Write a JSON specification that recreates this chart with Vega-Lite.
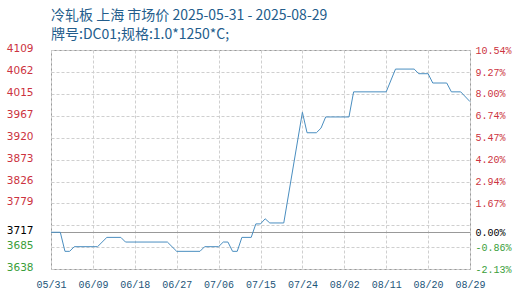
{
  "$schema": "https://vega.github.io/schema/vega-lite/v6.json",
  "width": 419,
  "height": 219,
  "autosize": "none",
  "padding": {"left": 51, "top": 50, "right": 50, "bottom": 31},
  "background": "white",
  "title": {
    "text": ["冷轧板 上海 市场价 2025-05-31 - 2025-08-29", "牌号:DC01;规格:1.0*1250*C;"],
    "anchor": "start",
    "frame": "group",
    "font": "Noto Sans CJK SC",
    "fontSize": 14,
    "fontWeight": "normal",
    "color": "#235d8c",
    "lineHeight": 18.5,
    "offset": 2
  },
  "config": {"view": {"stroke": "#9a9a9a", "strokeWidth": 1}},
  "data": {
    "values": [
      {"date": "2025-05-31", "price": 3717},
      {"date": "2025-06-02", "price": 3717},
      {"date": "2025-06-03", "price": 3676},
      {"date": "2025-06-04", "price": 3676},
      {"date": "2025-06-05", "price": 3686},
      {"date": "2025-06-10", "price": 3686},
      {"date": "2025-06-12", "price": 3706},
      {"date": "2025-06-15", "price": 3706},
      {"date": "2025-06-16", "price": 3696},
      {"date": "2025-06-25", "price": 3696},
      {"date": "2025-06-27", "price": 3676},
      {"date": "2025-07-02", "price": 3676},
      {"date": "2025-07-03", "price": 3686},
      {"date": "2025-07-06", "price": 3686},
      {"date": "2025-07-07", "price": 3696},
      {"date": "2025-07-08", "price": 3696},
      {"date": "2025-07-09", "price": 3676},
      {"date": "2025-07-10", "price": 3676},
      {"date": "2025-07-11", "price": 3706},
      {"date": "2025-07-13", "price": 3706},
      {"date": "2025-07-14", "price": 3735},
      {"date": "2025-07-15", "price": 3735},
      {"date": "2025-07-16", "price": 3746},
      {"date": "2025-07-17", "price": 3737},
      {"date": "2025-07-20", "price": 3737},
      {"date": "2025-07-24", "price": 3975},
      {"date": "2025-07-25", "price": 3931},
      {"date": "2025-07-27", "price": 3931},
      {"date": "2025-07-28", "price": 3941},
      {"date": "2025-07-29", "price": 3965},
      {"date": "2025-08-03", "price": 3965},
      {"date": "2025-08-04", "price": 4019},
      {"date": "2025-08-11", "price": 4019},
      {"date": "2025-08-13", "price": 4068},
      {"date": "2025-08-17", "price": 4068},
      {"date": "2025-08-18", "price": 4058},
      {"date": "2025-08-20", "price": 4058},
      {"date": "2025-08-21", "price": 4038},
      {"date": "2025-08-24", "price": 4038},
      {"date": "2025-08-25", "price": 4019},
      {"date": "2025-08-27", "price": 4019},
      {"date": "2025-08-29", "price": 3998}
    ]
  },
  "encoding": {
    "x": {
      "field": "date",
      "type": "temporal",
      "scale": {
        "type": "utc",
        "domain": [
          {"year": 2025, "month": 5, "date": 31, "utc": true},
          {"year": 2025, "month": 8, "date": 29, "utc": true}
        ]
      },
      "axis": {
        "title": null,
        "format": "%m/%d",
        "values": [
          {"year": 2025, "month": 5, "date": 31, "utc": true},
          {"year": 2025, "month": 6, "date": 9, "utc": true},
          {"year": 2025, "month": 6, "date": 18, "utc": true},
          {"year": 2025, "month": 6, "date": 27, "utc": true},
          {"year": 2025, "month": 7, "date": 6, "utc": true},
          {"year": 2025, "month": 7, "date": 15, "utc": true},
          {"year": 2025, "month": 7, "date": 24, "utc": true},
          {"year": 2025, "month": 8, "date": 2, "utc": true},
          {"year": 2025, "month": 8, "date": 11, "utc": true},
          {"year": 2025, "month": 8, "date": 20, "utc": true},
          {"year": 2025, "month": 8, "date": 29, "utc": true}
        ],
        "domain": false,
        "ticks": false,
        "grid": true,
        "gridColor": "#cfcfcf",
        "gridDash": [3, 2],
        "labelFont": "Liberation Mono",
        "labelFontSize": 10,
        "labelColor": "#1d5579",
        "labelPadding": 10,
        "labelOverlap": false,
        "labelFlush": false
      }
    }
  },
  "layer": [
    {
      "mark": {"type": "line", "color": "#4a8ec0", "strokeWidth": 1},
      "encoding": {
        "y": {
          "field": "price",
          "type": "quantitative",
          "scale": {"domain": [3638, 4109], "nice": false, "zero": false},
          "axis": {
            "title": null,
            "orient": "left",
            "values": [3638, 3685, 3717, 3732, 3779, 3826, 3873, 3920, 3967, 4015, 4062, 4109],
            "labelExpr": "datum.value == 3732 ? '' : format(datum.value, 'd')",
            "domain": false,
            "ticks": false,
            "grid": true,
            "gridColor": {"condition": {"test": "datum.value == 3717", "value": "#999999"}, "value": "#cfcfcf"},
            "gridDash": {"condition": {"test": "datum.value == 3717", "value": []}, "value": [3, 2]},
            "labelFont": "DejaVu Sans",
            "labelFontSize": 10.5,
            "labelColor": {"condition": [{"test": "datum.value > 3720", "value": "#cc3340"}, {"test": "datum.value < 3710", "value": "#3a9e3a"}], "value": "#000000"},
            "labelPadding": 18,
            "labelOffset": -1.5,
            "labelOverlap": false,
            "labelFlush": false
          }
        }
      }
    },
    {
      "mark": {"type": "line", "strokeOpacity": 0},
      "encoding": {
        "y": {
          "field": "price",
          "type": "quantitative",
          "scale": {"domain": [3638, 4109], "nice": false, "zero": false},
          "axis": {
            "title": null,
            "orient": "right",
            "values": [3638, 3685, 3717, 3779, 3826.3, 3873, 3920.3, 3967.5, 4014.4, 4061.6, 4108.8],
            "labelExpr": "replace(format((datum.value / 3717 - 1) * 100, '.2f'), '−', '-') + '%'",
            "domain": false,
            "ticks": false,
            "grid": false,
            "labelFont": "Liberation Mono",
            "labelFontSize": 10,
            "labelColor": {"condition": [{"test": "datum.value > 3720", "value": "#cc3340"}, {"test": "datum.value < 3710", "value": "#3a9e3a"}], "value": "#000000"},
            "labelPadding": 5,
            "labelOverlap": false,
            "labelFlush": false
          }
        }
      }
    }
  ],
  "resolve": {"scale": {"y": "independent"}}
}
